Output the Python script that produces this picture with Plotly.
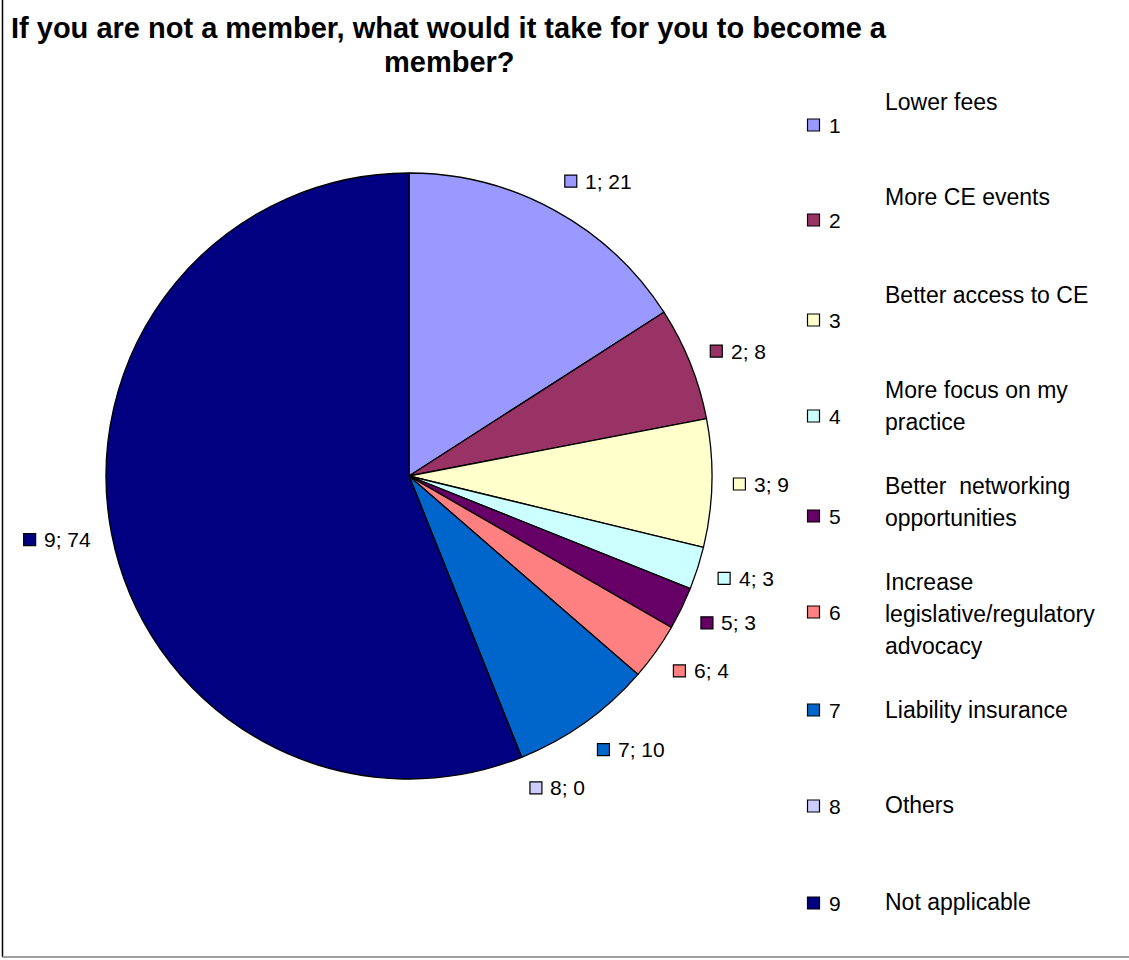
import math
import plotly.graph_objects as go

# ---------------- data ----------------
categories = ["1", "2", "3", "4", "5", "6", "7", "8", "9"]
values = [21, 8, 9, 3, 3, 4, 10, 0, 74]
descriptions = [
    ["Lower fees"],
    ["More CE events"],
    ["Better access to CE"],
    ["More focus on my", "practice"],
    ["Better  networking", "opportunities"],
    ["Increase", "legislative/regulatory", "advocacy"],
    ["Liability insurance"],
    ["Others"],
    ["Not applicable"],
]
colors = ["#9999FF", "#993366", "#FFFFCC", "#CCFFFF", "#660066",
          "#FF8080", "#0066CC", "#CCCCFF", "#000080"]
title_lines = ["If you are not a member, what would it take for you to become a",
               "member?"]

# ---------------- layout constants (pixels) ----------------
W, H = 1129, 960
CX, CY, R = 409, 476, 303
R_LABEL = 324
FONT = "Liberation Sans, Arial, sans-serif"
LBL_SIZE = 21
SQ = 12          # marker side
GAP = 8          # gap between square and its text
BOX_H = 24

fig = go.Figure()

# pie
fig.add_trace(go.Pie(
    labels=categories, values=values, sort=False, direction="clockwise",
    rotation=0, textinfo="none", hoverinfo="label+value",
    marker=dict(colors=colors, line=dict(color="#000000", width=1.3)),
    domain=dict(x=[(CX - R) / W, (CX + R) / W],
                y=[1 - (CY + R) / H, 1 - (CY - R) / H]),
    showlegend=False,
))


def text_w(s, size):
    w = 0
    for ch in s:
        w += 0.278 if ch in "; " else 0.556
    return w * size


# data labels placed outside each slice, along its mid angle
total = sum(values)
cum = 0
sq_x, sq_y, txt_x, ltxt = [], [], [], []
for c, v in zip(categories, values):
    mid = (cum + v / 2) / total * 2 * math.pi
    cum += v
    s, co = math.sin(mid), math.cos(mid)
    px = CX + R_LABEL * s
    py = CY - R_LABEL * co
    txt = f"{c}; {v}"
    group = SQ + 1 + GAP + text_w(txt, LBL_SIZE)
    left = px if s >= 0 else px - group
    cy_ = py - co * BOX_H / 2
    sq_x.append(left + SQ / 2 + 0.5)
    sq_y.append(cy_)
    txt_x.append(left + SQ + 1 + GAP - 2)
    ltxt.append(txt)

fig.add_trace(go.Scatter(
    x=sq_x, y=sq_y, mode="markers",
    marker=dict(symbol="square", size=SQ, color=colors,
                line=dict(color="#000000", width=1.2)),
    hoverinfo="skip", showlegend=False, cliponaxis=False,
))
for x, y, t in zip(txt_x, sq_y, ltxt):
    fig.add_annotation(x=x, y=y, xref="x", yref="y", text=t, showarrow=False,
                       xanchor="left", yanchor="middle",
                       font=dict(family=FONT, size=LBL_SIZE, color="#000000"))

# legend (manual, to reproduce the spaced layout)
leg_y = [125, 220, 320, 416, 516, 612, 710, 806, 903]
desc_y = [102, 197, 295, 406, 502, 614, 710, 805, 902]
LINE_H = 32
fig.add_trace(go.Scatter(
    x=[813.5] * len(categories), y=leg_y, mode="markers",
    marker=dict(symbol="square", size=SQ, color=colors,
                line=dict(color="#000000", width=1.2)),
    hoverinfo="skip", showlegend=False, cliponaxis=False,
))
for c, y in zip(categories, leg_y):
    fig.add_annotation(x=827, y=y, xref="x", yref="y", text=c, showarrow=False,
                       xanchor="left", yanchor="middle",
                       font=dict(family=FONT, size=LBL_SIZE, color="#000000"))
for lines, yc in zip(descriptions, desc_y):
    n = len(lines)
    for i, ln in enumerate(lines):
        fig.add_annotation(x=883, y=yc + (i - (n - 1) / 2) * LINE_H,
                           xref="x", yref="y", text=ln, showarrow=False,
                           xanchor="left", yanchor="middle",
                           font=dict(family=FONT, size=23, color="#000000"))

# title
fig.add_annotation(x=449, y=28, xref="x", yref="y", text=f"<b>{title_lines[0]}</b>",
                   showarrow=False, xanchor="center", yanchor="middle",
                   font=dict(family=FONT, size=29, color="#000000"))
fig.add_annotation(x=449, y=62, xref="x", yref="y", text=f"<b>{title_lines[1]}</b>",
                   showarrow=False, xanchor="center", yanchor="middle",
                   font=dict(family=FONT, size=29, color="#000000"))

# frame lines
fig.add_shape(type="line", xref="x", yref="y", x0=2.5, x1=2.5, y0=0, y1=957,
              line=dict(color="#000000", width=1.5))
fig.add_shape(type="line", xref="x", yref="y", x0=2, x1=W, y0=957, y1=957,
              line=dict(color="#808080", width=1.5))

fig.update_layout(
    width=W, height=H, margin=dict(l=0, r=0, t=0, b=0),
    paper_bgcolor="#FFFFFF", plot_bgcolor="rgba(0,0,0,0)",
    xaxis=dict(range=[0, W], visible=False, fixedrange=True),
    yaxis=dict(range=[H, 0], visible=False, fixedrange=True),
    showlegend=False,
)

fig.write_html("out.html")
